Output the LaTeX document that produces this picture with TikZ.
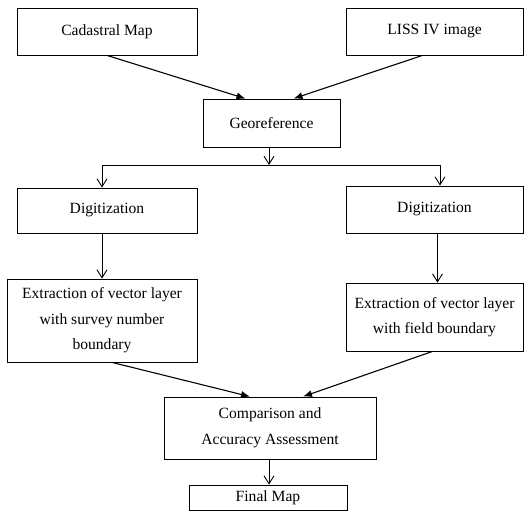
\documentclass[tikz,border=0pt]{standalone}
\usepackage{fontspec}
\setmainfont{Liberation Serif}
\usetikzlibrary{arrows,arrows.meta,calc}
\tikzset{
    block/.style = {draw, rectangle, line width=0.8pt,
        align=center, inner sep=0pt,
        font=\fontsize{15.6}{25.5}\selectfont},
    arrow/.style={draw, line width=1.1pt, -{Latex[length=9pt,width=7pt]}},
    barb/.style={draw, line width=0.9pt, -{Straight Barb[length=8pt,width=10pt]}}
}

\begin{document}
\begin{tikzpicture}[x=1pt,y=-1pt]
        \useasboundingbox (0,0) rectangle (524,520);
        % top row
        \node[block, minimum width=180pt, minimum height=47pt] (cadastral) at (107,31.5) {Cadastral Map};
        \node[block, minimum width=177pt, minimum height=47pt] (liss) at (434.5,31.5) {LISS IV image};
        \node[block, minimum width=137pt, minimum height=48pt] (georef) at (271.5,123) {Georeference};
        % two branches
        \node[block, minimum width=180pt, minimum height=45pt] (digitL) at (107,210.5) {Digitization};
        \node[block, minimum width=177pt, minimum height=47pt] (digitR) at (434.5,209.5) {Digitization};
        \node[block, minimum width=190pt, minimum height=83pt] (extractL) at (102,320.5) {Extraction of vector layer\\with survey number\\boundary};
        \node[block, minimum width=177pt, minimum height=68pt] (extractR) at (434.5,317) {Extraction of vector layer\\with field boundary};
        % bottom
        \node[block, minimum width=212pt, minimum height=62pt] (compare) at (270,428) {Comparison and\\Accuracy Assessment};
        \node[block, minimum width=158pt, minimum height=25pt] (final) at (268,497.5) {Final Map};
        \coordinate (split) at (269,165);
        \coordinate (splitL) at (102,165);
        \coordinate (splitR) at (440,165);
        % connectors
        \draw[arrow] (cadastral.south) -- ([xshift=-26pt]georef.north);
        \draw[arrow] ([xshift=-12pt]liss.south) -- ([xshift=22pt]georef.north);
        \draw[barb] (georef.south -| split) -- (split);
        \draw[line width=0.9pt] (splitL) -- (splitR);
        \draw[barb] (splitL) -- (splitL |- digitL.north);
        \draw[barb] (splitR) -- (splitR |- digitR.north);
        \draw[barb] (digitL.south -| extractL.north) -- (extractL.north);
        \draw[barb] ([xshift=3pt]digitR.south) -- ([xshift=3pt]extractR.north);
        \draw[arrow] ([xshift=10pt]extractL.south) -- ([xshift=-20pt]compare.north);
        \draw[arrow] ([xshift=-2pt]extractR.south) -- ([xshift=33pt]compare.north);
        \draw[barb] (compare.south -| split) -- (split |- final.north);
\end{tikzpicture}
\end{document}
